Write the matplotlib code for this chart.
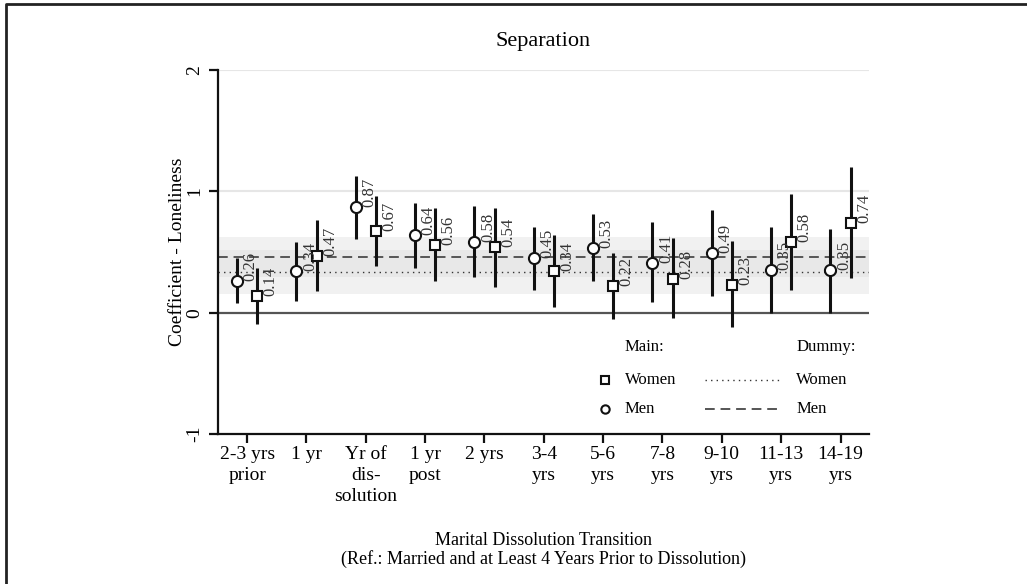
import numpy as np
import matplotlib.pyplot as plt
from matplotlib.lines import Line2D

plt.rcParams['font.family'] = ['Liberation Serif', 'DejaVu Serif']

categories = ['2-3 yrs\nprior', '1 yr', 'Yr of\ndis-\nsolution', '1 yr\npost', '2 yrs',
              '3-4\nyrs', '5-6\nyrs', '7-8\nyrs', '9-10\nyrs', '11-13\nyrs', '14-19\nyrs']

men = [0.26, 0.34, 0.87, 0.64, 0.58, 0.45, 0.53, 0.41, 0.49, 0.35, 0.35]
men_lo = [0.08, 0.10, 0.61, 0.37, 0.29, 0.19, 0.26, 0.09, 0.135, 0.0, 0.0]
men_hi = [0.45, 0.58, 1.13, 0.905, 0.875, 0.71, 0.81, 0.75, 0.85, 0.705, 0.69]

women = [0.14, 0.47, 0.67, 0.56, 0.54, 0.34, 0.22, 0.28, 0.23, 0.58, 0.74]
women_lo = [-0.095, 0.18, 0.385, 0.26, 0.21, 0.05, -0.05, -0.045, -0.115, 0.185, 0.285]
women_hi = [0.37, 0.76, 0.96, 0.86, 0.865, 0.64, 0.49, 0.615, 0.59, 0.98, 1.20]

# dummy model: coefficient and CI band
dummy_men, dummy_men_ci = 0.46, (0.29, 0.62)
dummy_women, dummy_women_ci = 0.335, (0.155, 0.515)

x = np.arange(1, len(categories) + 1)
off = 0.17

fig = plt.figure(figsize=(10.27, 5.84), dpi=100)
ax = fig.add_axes([218 / 1027, 150 / 584, 651 / 1027, 364 / 584])

# outer frame (left and top only visible)
fig.add_artist(Line2D([6 / 1027, 6 / 1027, 1.0], [0.0, 1 - 4 / 584, 1 - 4 / 584],
                      transform=fig.transFigure, color='#222222', lw=2))

ax.axhspan(*dummy_men_ci, color='#d9d9d9', alpha=0.35, lw=0, zorder=0)
ax.axhspan(*dummy_women_ci, color='#d9d9d9', alpha=0.35, lw=0, zorder=0)
for yv in [1, 2]:
    ax.axhline(yv, color='#e6e6e6', lw=1.5, zorder=0.5)
ax.axhline(0, color='#555555', lw=1.6, zorder=1)
ax.axhline(dummy_men, color='#555555', lw=1.4, ls=(0, (5, 3)), zorder=1)
ax.axhline(dummy_women, color='#333333', lw=1.0, ls=(0, (1, 3)), zorder=1)

ax.vlines(x - off, men_lo, men_hi, color='#111111', lw=2.2, zorder=2)
ax.vlines(x + off, women_lo, women_hi, color='#111111', lw=2.2, zorder=2)
ax.plot(x - off, men, 'o', ms=8, mfc='white', mec='#111111', mew=1.5, zorder=3)
ax.plot(x + off, women, 's', ms=7.5, mfc='white', mec='#111111', mew=1.5, zorder=3)

for xi, v in zip(x - off, men):
    ax.annotate(f'{v:.2f}', (xi, v), xytext=(4, 0), textcoords='offset points',
                rotation=90, rotation_mode='anchor', ha='left', va='top',
                fontsize=12, color='#333333', zorder=4)
for xi, v in zip(x + off, women):
    ax.annotate(f'{v:.2f}', (xi, v), xytext=(4, 0), textcoords='offset points',
                rotation=90, rotation_mode='anchor', ha='left', va='top',
                fontsize=12, color='#333333', zorder=4)

ax.set_xlim(0.51, 11.48)
ax.set_ylim(-1, 2)
ax.set_xticks(x)
ax.set_xticklabels(categories, fontsize=14, linespacing=1.3)
ax.set_yticks([-1, 0, 1, 2])
ax.set_yticklabels(['-1', '0', '1', '2'], fontsize=14, rotation=90, va='center')
ax.tick_params(length=6.5, width=1.6, color='#111111', pad=2)
ax.tick_params(axis='y', pad=4)
for s in ['top', 'right']:
    ax.spines[s].set_visible(False)
for s in ['left', 'bottom']:
    ax.spines[s].set_linewidth(1.6)
    ax.spines[s].set_color('#111111')

ax.set_ylabel('Coefficient - Loneliness', fontsize=14, labelpad=0)
ax.set_xlabel('Marital Dissolution Transition\n(Ref.: Married and at Least 4 Years Prior to Dissolution)',
              fontsize=13, labelpad=20, linespacing=1.05)
ax.set_title('Separation', fontsize=16, pad=17)

# legend drawn by hand
lt = ax.transAxes
fs = 12
ax.text(0.625, 0.239, 'Main:', transform=lt, fontsize=fs, va='center')
ax.text(0.888, 0.239, 'Dummy:', transform=lt, fontsize=fs, va='center')
ax.plot([0.594], [0.148], 's', ms=6, mfc='white', mec='#111111', mew=1.5, transform=lt)
ax.plot([0.594], [0.069], 'o', ms=6, mfc='white', mec='#111111', mew=1.5, transform=lt)
ax.text(0.625, 0.148, 'Women', transform=lt, fontsize=fs, va='center')
ax.text(0.625, 0.069, 'Men', transform=lt, fontsize=fs, va='center')
ax.plot([0.748, 0.863], [0.148, 0.148], color='#333333', lw=1.0, ls=(0, (1, 3)), transform=lt)
ax.plot([0.748, 0.863], [0.069, 0.069], color='#555555', lw=1.4, ls=(0, (5, 3)), transform=lt)
ax.text(0.888, 0.148, 'Women', transform=lt, fontsize=fs, va='center')
ax.text(0.888, 0.069, 'Men', transform=lt, fontsize=fs, va='center')

fig.savefig('out.png', dpi=100)
